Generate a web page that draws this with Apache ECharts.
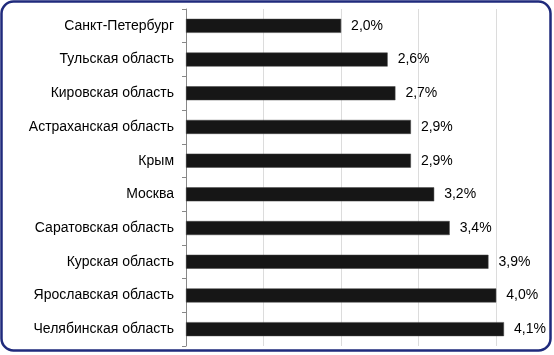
<!DOCTYPE html>
<html>
<head>
<meta charset="utf-8">
<script src="https://cdn.jsdelivr.net/npm/echarts@6/dist/echarts.min.js"></script>
<style>
html,body{margin:0;padding:0;background:#fff;}
#chart{width:554px;height:355px;}
</style>
</head>
<body>
<div id="chart"></div>
<script>
const categories = ["Санкт-Петербург","Тульская область","Кировская область","Астраханская область","Крым","Москва","Саратовская область","Курская область","Ярославская область","Челябинская область"];
const values = [2.0, 2.6, 2.7, 2.9, 2.9, 3.2, 3.4, 3.9, 4.0, 4.1];

const chart = echarts.init(document.getElementById('chart'), null, {renderer:'canvas'});
chart.setOption({
  animation:false,
  backgroundColor:'#fff',
  graphic:[{
    type:'rect',
    shape:{x:1.5,y:1.5,width:549,height:349,r:12},
    style:{fill:'none',stroke:'#1f2a7c',lineWidth:2.5},
    z:100
  }],
  grid:{left:186,top:9,bottom:9,right:19,containLabel:false},
  xAxis:{
    type:'value',min:0,max:4.5,interval:1,
    axisLabel:{show:false},
    axisLine:{show:false},
    axisTick:{show:false},
    splitLine:{show:true,showMinLine:false,showMaxLine:false,lineStyle:{color:'#dcdcdc',width:1}}
  },
  yAxis:{
    type:'category',data:categories,inverse:true,
    axisLine:{show:true,lineStyle:{color:'#888',width:1}},
    axisTick:{show:true,length:4,inside:false,lineStyle:{color:'#888'}},
    axisLabel:{color:'#000',fontFamily:'Liberation Sans, Arial, sans-serif',fontSize:14,margin:12}
  },
  series:[{
    type:'bar',data:values,barWidth:14,
    itemStyle:{color:'#161616',borderColor:'#444',borderWidth:0.5},
    label:{show:true,position:'right',distance:10,color:'#000',fontFamily:'Liberation Sans, Arial, sans-serif',fontSize:14,
      formatter:p=>p.value.toFixed(1).replace('.',',')+'%'}
  }]
});
</script>
</body>
</html>
